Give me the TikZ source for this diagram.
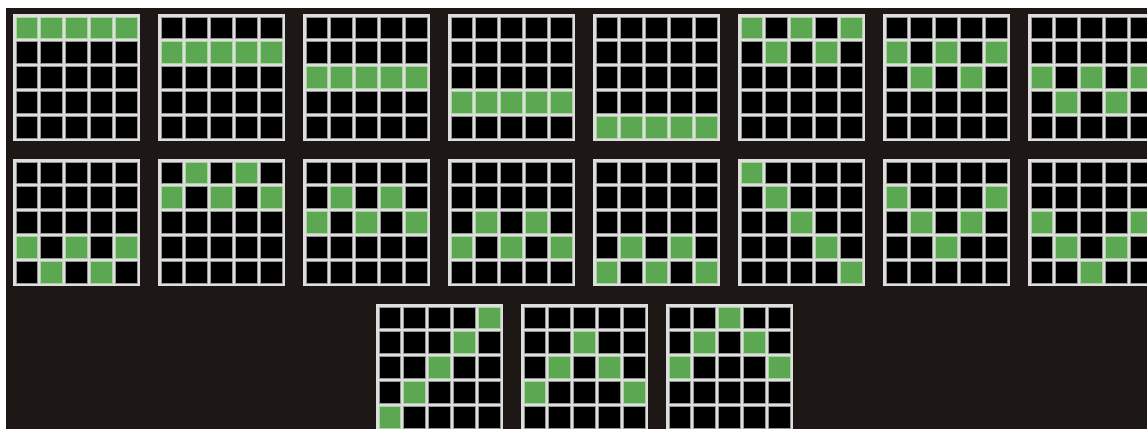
\documentclass[tikz,border=0pt]{standalone}
\usepackage{tikz}
\usetikzlibrary{calc}
\definecolor{bgdark}{RGB}{29,23,21}
\definecolor{linegreen}{RGB}{92,168,82}
\definecolor{hitedge}{RGB}{170,215,160}
\definecolor{framegray}{RGB}{222,222,222}
\definecolor{celledge}{RGB}{150,150,150}

\begin{document}
\begin{tikzpicture}[x=0.02cm,y=-0.02cm,
    cell/.style={fill=black,draw=celledge,line width=0.4pt},
    hit/.style={fill=linegreen,draw=hitedge,line width=0.5pt}]
    % 1147 x 429, y grows downwards
    \useasboundingbox (0,0) rectangle (1147,429);
    \clip (0,0) rectangle (1147,429);
    \fill[white] (0,0) rectangle (1147,429);
    \fill[bgdark] (6,8) rectangle (1147,429);

    % x / y of the grid, then the winning row (1..5) of each column
    \foreach \gx/\gy/\a/\b/\c/\d/\e in {
        13/14/1/1/1/1/1, 158/14/2/2/2/2/2, 303/14/3/3/3/3/3, 448/14/4/4/4/4/4,
        593/14/5/5/5/5/5, 738/14/1/2/1/2/1, 883/14/2/3/2/3/2, 1028/14/3/4/3/4/3,
        13/159/4/5/4/5/4, 158/159/2/1/2/1/2, 303/159/3/2/3/2/3, 448/159/4/3/4/3/4,
        593/159/5/4/5/4/5, 738/159/1/2/3/4/5, 883/159/2/3/4/3/2, 1028/159/3/4/5/4/3,
        376/304/5/4/3/2/1, 521/304/4/3/2/3/4, 666/304/3/2/1/2/3}{
        % frame
        \fill[framegray] (\gx,\gy) rectangle ++(127,127);
        % cells
        \foreach \i in {0,...,4}
            \foreach \j in {0,...,4}
                \draw[cell] ({\gx+3+\i*24.8},{\gy+3+\j*24.8}) rectangle ++(21.8,21.8);
        % the line
        \foreach \i/\r in {0/\a,1/\b,2/\c,3/\d,4/\e}
            \draw[hit] ({\gx+3+\i*24.8},{\gy+3+(\r-1)*24.8}) rectangle ++(21.8,21.8);
    }
\end{tikzpicture}
\end{document}
